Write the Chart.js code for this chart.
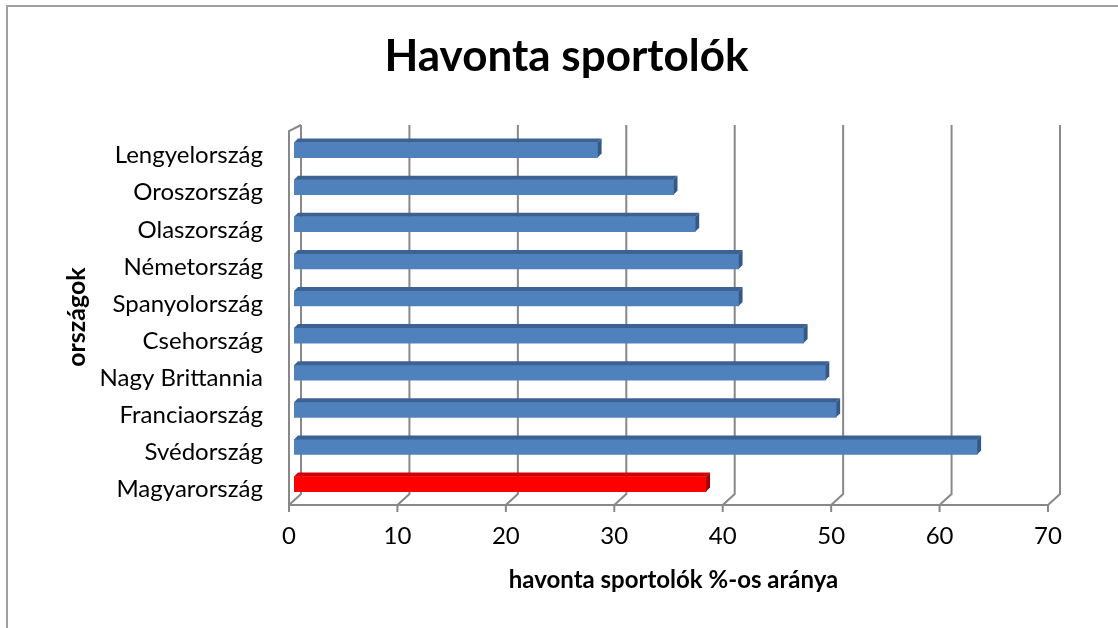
<!DOCTYPE html>
<html>
<head>
<meta charset="utf-8">
<script src="https://cdn.jsdelivr.net/npm/chart.js@4.4.0/dist/chart.umd.min.js"></script>
<style>
  html, body { margin: 0; padding: 0; background: #fff; }
  #wrap { width: 1118px; height: 628px; position: relative; }
</style>
</head>
<body>
<div id="wrap"><canvas id="canvas" width="1118" height="628"></canvas></div>
<script>
const countries = ['Lengyelország', 'Oroszország', 'Olaszország', 'Németország', 'Spanyolország',
    'Csehország', 'Nagy Brittannia', 'Franciaország', 'Svédország', 'Magyarország'];
const shares = [28, 35, 37, 41, 41, 47, 49, 50, 63, 38];
const highlight = 'Magyarország';
const xTicks = [0, 10, 20, 30, 40, 50, 60, 70];

const FONT = 'Lato, "Open Sans", sans-serif';
const gridColor = '#888888';

const faceColors = countries.map(c => c === highlight ? '#ff0000' : '#4f81bd');
const topColors = countries.map(c => c === highlight ? '#d40000' : '#3c6293');
const sideColors = countries.map(c => c === highlight ? '#a80000' : '#345887');

const ctx = document.getElementById('canvas').getContext('2d');

const frame = {
    id: 'frame',
    beforeDraw: (chart) => {
        const ctx = chart.ctx;
        ctx.save();
        ctx.fillStyle = '#fff';
        ctx.fillRect(0, 0, chart.width, chart.height);
        ctx.strokeStyle = '#a0a0a0';
        ctx.lineWidth = 2;
        ctx.beginPath();
        ctx.moveTo(7, chart.height);
        ctx.lineTo(7, 6);
        ctx.lineTo(chart.width, 6);
        ctx.stroke();
        ctx.restore();
    }
};

// back wall, floor and grid lines of the 3D box, then bar depth
const box = {
    id: 'box',
    beforeDatasetsDraw: (chart) => {
        const ctx = chart.ctx;
        const xs = chart.scales.x;
        const backTop = 125, backBottom = 494, floor = 505;
        ctx.save();
        ctx.strokeStyle = gridColor;
        ctx.lineWidth = 2;
        xTicks.forEach(v => {
            const p = xs.getPixelForValue(v);
            ctx.beginPath();
            ctx.moveTo(p + 7, backTop);
            ctx.lineTo(p + 7, backBottom);
            ctx.lineTo(p - 5, floor);
            ctx.stroke();
            ctx.beginPath();
            ctx.moveTo(p - 5, floor);
            ctx.lineTo(p - 5, floor + 7);
            ctx.stroke();
        });
        const p0 = xs.getPixelForValue(0);
        const pEnd = xs.getPixelForValue(70);
        ctx.beginPath();
        ctx.moveTo(p0 + 7, backTop);
        ctx.lineTo(p0 - 5, backTop + 6);
        ctx.lineTo(p0 - 5, floor);
        ctx.lineTo(pEnd - 5, floor);
        ctx.stroke();
        ctx.restore();
    },
    afterDatasetsDraw: (chart) => {
        const ctx = chart.ctx;
        const meta = chart.getDatasetMeta(0);
        const d = 4;
        ctx.save();
        meta.data.forEach((bar, i) => {
            const top = bar.y - bar.height / 2;
            const bottom = bar.y + bar.height / 2;
            ctx.fillStyle = topColors[i];
            ctx.beginPath();
            ctx.moveTo(bar.base, top);
            ctx.lineTo(bar.base + d, top - d);
            ctx.lineTo(bar.x + d, top - d);
            ctx.lineTo(bar.x, top);
            ctx.closePath();
            ctx.fill();
            ctx.fillStyle = sideColors[i];
            ctx.beginPath();
            ctx.moveTo(bar.x, top);
            ctx.lineTo(bar.x + d, top - d);
            ctx.lineTo(bar.x + d, bottom - d);
            ctx.lineTo(bar.x, bottom);
            ctx.closePath();
            ctx.fill();
        });
        ctx.restore();
    }
};

const chart = new Chart(ctx, {
    type: 'bar',
    data: {
        labels: countries,
        datasets: [{
            data: shares,
            backgroundColor: faceColors,
            borderWidth: 0,
            barThickness: 15
        }]
    },
    options: {
        indexAxis: 'y',
        responsive: false,
        animation: false,
        layout: {
            padding: { left: 80, right: 65, top: 9, bottom: 33.4 }
        },
        plugins: {
            legend: { display: false },
            tooltip: { enabled: false },
            title: {
                display: true,
                text: 'Havonta sportolók',
                color: '#000',
                font: { family: FONT, size: 44, weight: 'bold' },
                padding: { top: 21.6, bottom: 48.1 }
            }
        },
        scales: {
            x: {
                min: 0,
                max: 70,
                afterFit: (scale) => { scale.height = 92; },
                grid: { display: false, drawTicks: false },
                border: { display: false },
                ticks: {
                    stepSize: 10,
                    padding: 19,
                    labelOffset: -5,
                    color: '#000',
                    font: { family: FONT, size: 24 }
                },
                title: {
                    display: true,
                    text: 'havonta sportolók %-os aránya',
                    color: '#000',
                    font: { family: FONT, size: 24, weight: 'bold' },
                    padding: { top: 0, bottom: 0 }
                }
            },
            y: {
                afterFit: (scale) => { scale.width = 214; },
                grid: { display: false, drawTicks: false },
                border: { display: false },
                ticks: {
                    padding: 31,
                    labelOffset: 5.5,
                    color: '#000',
                    font: { family: FONT, size: 24 }
                },
                title: {
                    display: true,
                    text: 'országok',
                    color: '#000',
                    font: { family: FONT, size: 25, weight: 'bold' },
                    padding: { top: -18.5, bottom: 0 }
                }
            }
        }
    },
    plugins: [frame, box]
});
</script>
</body>
</html>
